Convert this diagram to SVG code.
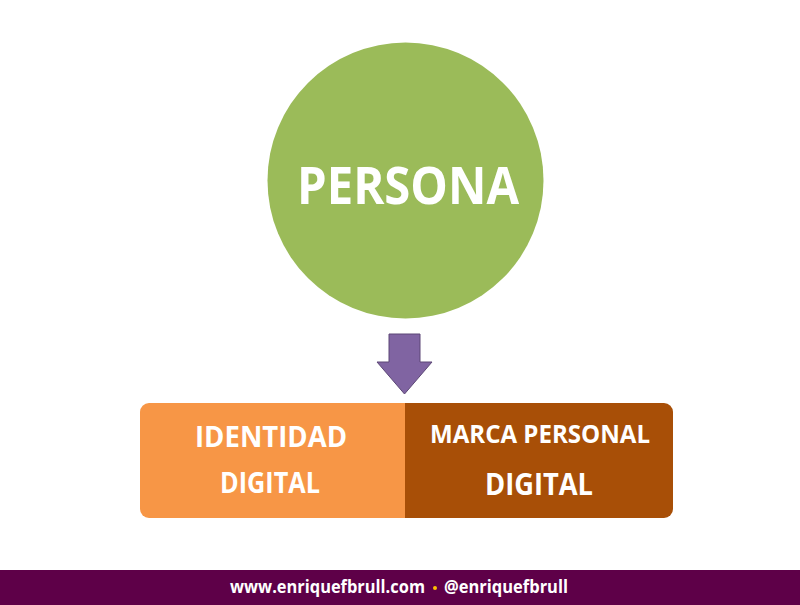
<svg xmlns="http://www.w3.org/2000/svg" width="800" height="605" viewBox="0 0 800 605">
<style>
.t{font-family:"Open Sans","Liberation Sans",sans-serif;font-weight:bold;fill:#FFFFFF;text-anchor:middle}
.f{font-family:"Open Sans","Liberation Sans",sans-serif;font-weight:bold;fill:#FFFFFF;font-size:18px}
</style>
<rect x="0" y="0" width="800" height="605" fill="#FFFFFF"/>
<g id="persona">
<circle cx="405.5" cy="180.5" r="138" fill="#9BBB59"/>
<text class="t" x="408" y="204" font-size="52" textLength="222" lengthAdjust="spacingAndGlyphs">PERSONA</text>
</g>
<g id="connectors">
<polygon points="389,334 420,334 420,362 432,362 404.5,394 377,362 389,362" fill="#8064A2" stroke="#5C4776" stroke-width="1"/>
</g>
<g id="identidad-digital">
<path d="M149 403 H405 V518 H149 A9 9 0 0 1 140 509 V412 A9 9 0 0 1 149 403 Z" fill="#F79646"/>
<text class="t" x="271" y="447" font-size="28" textLength="152" lengthAdjust="spacingAndGlyphs">IDENTIDAD</text>
<text class="t" x="270" y="493" font-size="28" textLength="100" lengthAdjust="spacingAndGlyphs">DIGITAL</text>
</g>
<g id="marca-personal-digital">
<path d="M405 403 H664 A9 9 0 0 1 673 412 V509 A9 9 0 0 1 664 518 H405 Z" fill="#A84F07"/>
<text class="t" x="540" y="443" font-size="24.5" textLength="220" lengthAdjust="spacingAndGlyphs">MARCA PERSONAL</text>
<text class="t" x="539" y="495" font-size="31" textLength="108" lengthAdjust="spacingAndGlyphs">DIGITAL</text>
</g>
<g id="footer">
<rect x="0" y="570" width="800" height="35" fill="#5E0048"/>
<text class="f" x="230" y="593" textLength="195" lengthAdjust="spacingAndGlyphs">www.enriquefbrull.com</text>
<circle cx="435" cy="588" r="2" fill="#FFC000"/>
<text class="f" x="444" y="593" textLength="124" lengthAdjust="spacingAndGlyphs">@enriquefbrull</text>
</g>
</svg>
